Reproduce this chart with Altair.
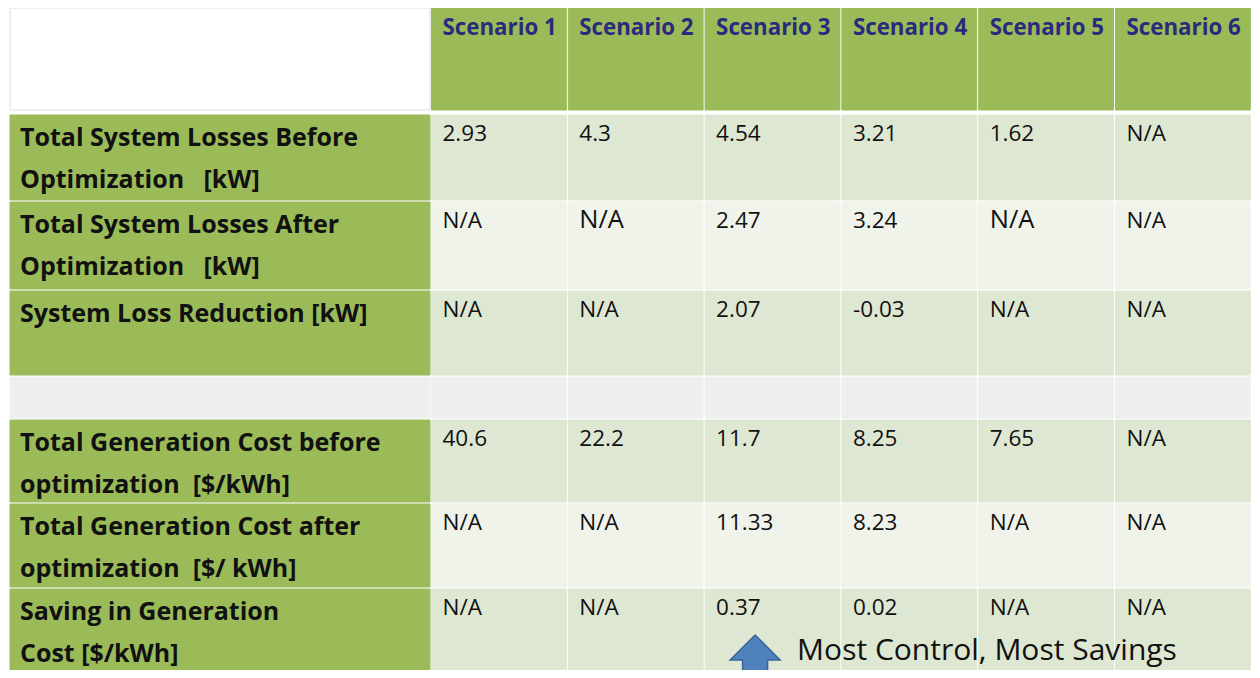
import altair as alt
import pandas as pd

# ---------------- data ----------------
scenarios = ["Scenario 1", "Scenario 2", "Scenario 3", "Scenario 4", "Scenario 5", "Scenario 6"]
NB = "\u00a0"
row_labels = [
    "Total System Losses Before\nOptimization" + NB * 2 + " [kW]",
    "Total System Losses After\nOptimization" + NB * 2 + " [kW]",
    "System Loss Reduction [kW]",
    "",
    "Total Generation Cost before\noptimization" + NB + " [$/kWh]",
    "Total Generation Cost after\noptimization" + NB + " [$/ kWh]",
    "Saving in Generation\nCost [$/kWh]",
]
losses_before = ["2.93", "4.3", "4.54", "3.21", "1.62", "N/A"]
losses_after = ["N/A", "N/A", "2.47", "3.24", "N/A", "N/A"]
loss_reduction = ["N/A", "N/A", "2.07", "-0.03", "N/A", "N/A"]
spacer_row = ["", "", "", "", "", ""]
cost_before = ["40.6", "22.2", "11.7", "8.25", "7.65", "N/A"]
cost_after = ["N/A", "N/A", "11.33", "8.23", "N/A", "N/A"]
cost_saving = ["N/A", "N/A", "0.37", "0.02", "N/A", "N/A"]
table_rows = [losses_before, losses_after, loss_reduction, spacer_row,
              cost_before, cost_after, cost_saving]
annotation_text = "Most Control, Most Savings"
annotated_scenario = "Scenario 3"

# ---------------- layout (page pixels) ----------------
PAGE_W, PAGE_H, MARGIN = 1260, 678, 8
TABLE_LEFT, LABEL_RIGHT = 10, 430
COL_LEFT0, COL_STEP, GAP = 431.5, 136.8, 2
HEADER_TOP, HEADER_H = 8, 102
BODY_TOP = 115
ROW_H = [85, 87, 84, 41, 82, 83, 82]
LARGE_CELLS = {(1, 1), (1, 4)}  # cells typed in a larger font in the original

FONT = "Open Sans"
HEADER_GREEN = "#9BBB59"
BAND_DARK = "#DEE7D1"
BAND_LIGHT = "#EFF3EA"
SPACER = "#EFEFEF"
NAVY = "#2B2B7D"

row_tops = []
t = BODY_TOP
for h in ROW_H:
    row_tops.append(t)
    t += h + GAP

def col_left(i):
    return COL_LEFT0 + i * COL_STEP

cells, headers, labels, values = [], [], [], []
cells.append(dict(x0=TABLE_LEFT, x1=LABEL_RIGHT, y0=HEADER_TOP, y1=HEADER_TOP + HEADER_H,
                  fill="#FFFFFF", stroke="#DDDDDD"))
for i, s in enumerate(scenarios):
    x0 = col_left(i)
    cells.append(dict(x0=x0, x1=x0 + COL_STEP - GAP, y0=HEADER_TOP, y1=HEADER_TOP + HEADER_H,
                      fill=HEADER_GREEN, stroke=HEADER_GREEN))
    headers.append(dict(x=x0 + 11, y=HEADER_TOP + 27, text=s))

band_cycle = [BAND_DARK, BAND_LIGHT, BAND_DARK, SPACER, BAND_DARK, BAND_LIGHT, BAND_DARK]
for r, (lab, vals) in enumerate(zip(row_labels, table_rows)):
    top, h = row_tops[r], ROW_H[r]
    is_spacer = lab == ""
    cells.append(dict(x0=TABLE_LEFT, x1=LABEL_RIGHT, y0=top, y1=top + h,
                      fill=SPACER if is_spacer else HEADER_GREEN,
                      stroke=SPACER if is_spacer else HEADER_GREEN))
    if lab:
        labels.append(dict(x=TABLE_LEFT + 10, y=top + 31, text=lab))
    for i, v in enumerate(vals):
        x0 = col_left(i)
        cells.append(dict(x0=x0, x1=x0 + COL_STEP - GAP, y0=top, y1=top + h,
                          fill=band_cycle[r], stroke=band_cycle[r]))
        if v:
            values.append(dict(x=x0 + 11, y=top + 26, text=v,
                               size=25.5 if (r, i) in LARGE_CELLS else 22.5))

ai = scenarios.index(annotated_scenario)
last_top = row_tops[-1]
arrow_df = pd.DataFrame([dict(x=col_left(ai) + 50, y=last_top + 71)])
note_df = pd.DataFrame([dict(x=col_left(ai) + 92, y=last_top + 71, text=annotation_text)])

W, H = PAGE_W - 2 * MARGIN, PAGE_H - 2 * MARGIN
xs = alt.Scale(domain=[MARGIN, MARGIN + W], range=[0, W], nice=False, zero=False)
ys = alt.Scale(domain=[MARGIN, MARGIN + H], range=[0, H], nice=False, zero=False)

rects = alt.Chart(pd.DataFrame(cells)).mark_rect(strokeWidth=1).encode(
    x=alt.X("x0:Q", scale=xs, axis=None), x2="x1:Q",
    y=alt.Y("y0:Q", scale=ys, axis=None), y2="y1:Q",
    fill=alt.Fill("fill:N", scale=None),
    stroke=alt.Stroke("stroke:N", scale=None),
)

header_text = alt.Chart(pd.DataFrame(headers)).mark_text(
    align="left", baseline="alphabetic", font=FONT, fontSize=22.3, fontWeight="bold", color=NAVY
).encode(x=alt.X("x:Q", scale=xs), y=alt.Y("y:Q", scale=ys), text="text:N")

label_text = alt.Chart(pd.DataFrame(labels)).mark_text(
    align="left", baseline="alphabetic", font=FONT, fontSize=25, fontWeight="bold",
    color="#111111", lineBreak="\n", lineHeight=42
).encode(x=alt.X("x:Q", scale=xs), y=alt.Y("y:Q", scale=ys), text="text:N")

value_text = alt.Chart(pd.DataFrame(values)).mark_text(
    align="left", baseline="alphabetic", font=FONT, color="#111111"
).encode(x=alt.X("x:Q", scale=xs), y=alt.Y("y:Q", scale=ys), text="text:N",
         size=alt.Size("size:Q", scale=None, legend=None))

arrow_path = "M0,-0.625L0.625,0L0.3125,0L0.3125,1L-0.3125,1L-0.3125,0L-0.625,0Z"
arrow = alt.Chart(arrow_df).mark_point(
    shape=arrow_path, size=6400, filled=True, fill="#4F81BD", stroke="#3A6597",
    strokeWidth=1.5, opacity=1
).encode(x=alt.X("x:Q", scale=xs), y=alt.Y("y:Q", scale=ys))

note = alt.Chart(note_df).mark_text(
    align="left", baseline="alphabetic", font=FONT, fontSize=30, color="#111111"
).encode(x=alt.X("x:Q", scale=xs), y=alt.Y("y:Q", scale=ys), text="text:N")

chart = alt.layer(rects, header_text, label_text, value_text, arrow, note).properties(
    width=W, height=H,
    autosize=alt.AutoSizeParams(type="none"), padding=0, background="#FFFFFF"
).configure_view(stroke=None)

chart.save("out.html", embed_options={"renderer": "svg", "actions": False})
